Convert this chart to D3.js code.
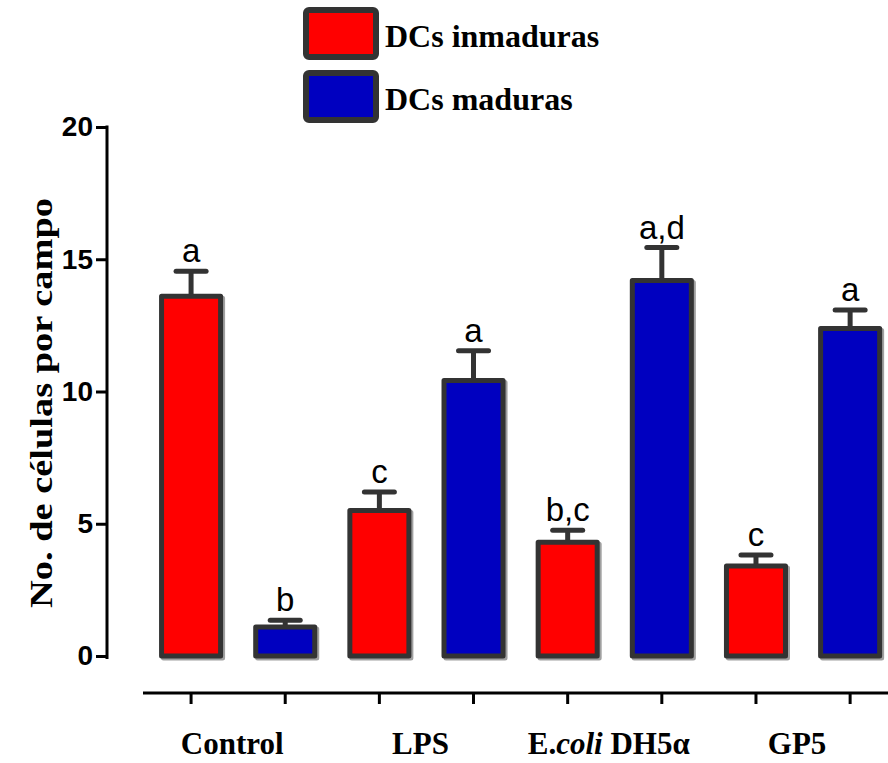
<!DOCTYPE html>
<html>
<head>
<meta charset="utf-8">
<script src="https://cdn.jsdelivr.net/npm/d3@7"></script>
<style>
  html, body { margin: 0; padding: 0; background: #fff; }
  svg { display: block; }
</style>
</head>
<body>
<svg id="chart" width="888" height="763"></svg>
<script>
// ---- data ----
const groups = ["Control", "LPS", "E.coli DH5α", "GP5"];
const seriesNames = ["DCs inmaduras", "DCs maduras"];
const seriesColors = ["#ff0000", "#0000c0"];
const inmadurasValues = [13.6, 5.5, 4.3, 3.4];
const inmadurasErrors = [0.95, 0.7, 0.45, 0.42];
const madurasValues = [1.1, 10.42, 14.2, 12.38];
const madurasErrors = [0.25, 1.12, 1.24, 0.7];
const inmadurasLetters = ["a", "c", "b,c", "c"];
const madurasLetters = ["b", "a", "a,d", "a"];
const yTicks = [0, 5, 10, 15, 20];
const yTitle = "No. de células por campo";

// ---- build rows ----
const rows = [];
groups.forEach((g, i) => {
  rows.push({ key: g + "|0", group: g, s: 0, v: inmadurasValues[i], e: inmadurasErrors[i], letter: inmadurasLetters[i] });
  rows.push({ key: g + "|1", group: g, s: 1, v: madurasValues[i], e: madurasErrors[i], letter: madurasLetters[i] });
});

const svg = d3.select("#chart");
const stroke = "#333333";
const serif = "'Liberation Serif', 'Times New Roman', Times, 'DejaVu Serif', serif";
const sans = "'Liberation Sans', Arial, Helvetica, sans-serif";

const y = d3.scaleLinear().domain([0, 20]).range([656, 127]);
const x = d3.scaleBand().domain(rows.map(r => r.key)).range([144, 897.2])
  .paddingInner(0.373).paddingOuter(0.1865);
const xg = d3.scaleBand().domain(groups).range([144, 897.2]);

// ---- y axis ----
const yAxis = svg.append("g").attr("transform", "translate(107,0)")
  .call(d3.axisLeft(y).tickValues(yTicks).tickSize(11).tickSizeOuter(0).tickPadding(3));
yAxis.attr("font-size", 28).attr("font-family", sans).attr("font-weight", "bold");
yAxis.select(".domain").attr("stroke", "#000").attr("stroke-width", 3)
  .attr("d", "M0," + (y(20) - 1.5) + "V" + (y(0) + 3));
yAxis.selectAll(".tick line").attr("stroke", "#000").attr("stroke-width", 3);
yAxis.selectAll(".tick text").attr("fill", "#000")
  .style("font-family", sans)
  .style("font-weight", "bold").style("font-size", "28px");

svg.append("text")
  .attr("transform", "translate(52," + 403 + ") rotate(-90)")
  .attr("text-anchor", "middle")
  .style("font-family", serif)
  .style("font-weight", "bold").style("font-size", "31px")
  .attr("textLength", 410).attr("lengthAdjust", "spacingAndGlyphs")
  .text(yTitle);

// ---- bars ----
const barG = svg.append("g");
// shadow
barG.selectAll("rect.shadow").data(rows).join("rect")
  .attr("class", "shadow")
  .attr("x", d => x(d.key) + 2)
  .attr("y", d => y(d.v) + 2)
  .attr("width", x.bandwidth())
  .attr("height", d => y(0) - y(d.v))
  .attr("fill", "none").attr("stroke", "#777").attr("stroke-width", 5)
  .attr("stroke-linejoin", "round").attr("opacity", 0.7);

// error bars
barG.selectAll("line.stem").data(rows).join("line")
  .attr("class", "stem")
  .attr("x1", d => x(d.key) + x.bandwidth() / 2)
  .attr("x2", d => x(d.key) + x.bandwidth() / 2)
  .attr("y1", d => y(d.v))
  .attr("y2", d => y(d.v + d.e))
  .attr("stroke", stroke).attr("stroke-width", 5);
barG.selectAll("line.cap").data(rows).join("line")
  .attr("class", "cap")
  .attr("x1", d => x(d.key) + x.bandwidth() / 2 - 15)
  .attr("x2", d => x(d.key) + x.bandwidth() / 2 + 15)
  .attr("y1", d => y(d.v + d.e))
  .attr("y2", d => y(d.v + d.e))
  .attr("stroke", stroke).attr("stroke-width", 5).attr("stroke-linecap", "round");

barG.selectAll("rect.bar").data(rows).join("rect")
  .attr("class", "bar")
  .attr("x", d => x(d.key))
  .attr("y", d => y(d.v))
  .attr("width", x.bandwidth())
  .attr("height", d => y(0) - y(d.v))
  .attr("fill", d => seriesColors[d.s])
  .attr("stroke", stroke).attr("stroke-width", 5).attr("stroke-linejoin", "round");

// significance letters
barG.selectAll("text.letter").data(rows).join("text")
  .attr("class", "letter")
  .attr("x", d => x(d.key) + x.bandwidth() / 2)
  .attr("y", d => y(d.v + d.e) - 9)
  .attr("text-anchor", "middle")
  .style("font-family", sans)
  .style("font-size", "33px")
  .text(d => d.letter);

// ---- bottom axis ----
const xAxis = svg.append("g").attr("transform", "translate(0,693)")
  .call(d3.axisBottom(x).tickSize(11).tickSizeOuter(0).tickFormat(""));
xAxis.select(".domain").attr("stroke", "#000").attr("stroke-width", 3)
  .attr("d", "M143,0H888");
xAxis.selectAll(".tick line").attr("stroke", "#000").attr("stroke-width", 3);

const labelG = svg.append("g");
groups.forEach(g => {
  const t = labelG.append("text")
    .attr("x", xg(g) + xg.bandwidth() / 2 - 6)
    .attr("y", 754)
    .attr("text-anchor", "middle")
    .style("font-family", serif)
    .style("font-weight", "bold").style("font-size", "31px");
  if (g.startsWith("E.coli")) {
    t.append("tspan").text("E.");
    t.append("tspan").style("font-style", "italic").text("coli");
    t.append("tspan").text(g.slice(6));
  } else {
    t.text(g);
  }
});

// ---- legend ----
const legend = svg.append("g");
const legendY = [34, 97];
seriesNames.forEach((name, i) => {
  legend.append("rect")
    .attr("x", 306).attr("y", legendY[i] - 24)
    .attr("width", 70).attr("height", 47)
    .attr("rx", 3)
    .attr("fill", seriesColors[i])
    .attr("stroke", stroke).attr("stroke-width", 6);
  legend.append("text")
    .attr("x", 385).attr("y", legendY[i] + 13)
    .style("font-family", serif)
    .style("font-weight", "bold").style("font-size", "32px")
    .text(name);
});
</script>
</body>
</html>
